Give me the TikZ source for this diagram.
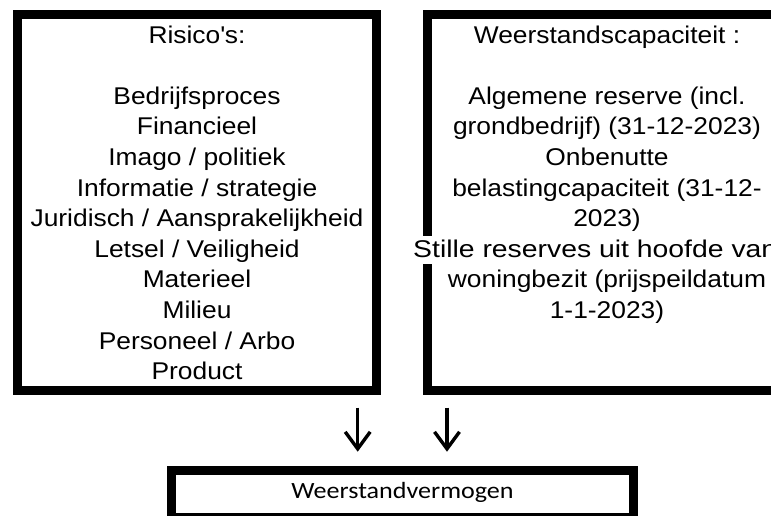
\documentclass[tikz,border=0pt]{standalone}
\usepackage{fontspec}
\setmainfont{Liberation Sans}[FakeStretch=1.09]
\newfontfamily\bottomfont{Carlito}[FakeStretch=1.12]
\usepackage{graphicx}
\usetikzlibrary{arrows.meta}
\begin{document}
\begin{tikzpicture}[x=1pt,y=-1pt,
  frame/.style={draw=black, line width=9pt, inner sep=0pt, outer sep=0pt},
  txt/.style={anchor=base, inner sep=0pt, font=\fontsize{24.2}{30}\selectfont},
  btxt/.style={anchor=base, inner sep=0pt, font=\bottomfont\fontsize{23.3}{28}\selectfont},
  arr/.style={line width=3.4pt, -{Straight Barb[length=17pt,width=25pt]}}]
\useasboundingbox (0,0) rectangle (771,515);
\clip (0,0) rectangle (771,515);
% boxes
\node[frame, minimum width=359pt, minimum height=376pt] (risk) at (197,202.5) {};
\node[frame, minimum width=360pt, minimum height=376pt] (cap) at (607.5,202.5) {};
\node[frame, minimum width=462pt, minimum height=47pt] (verm) at (402.5,494) {};
% left texts
\foreach \n/\t in {0/{Risico\textquotesingle s:}, 2/{Bedrijfsproces}, 3/{Financieel}, 4/{Imago / politiek},
  5/{Informatie / strategie}, 6/{Juridisch / Aansprakelijkheid}, 7/{Letsel / Veiligheid},
  8/{Materieel}, 9/{Milieu}, 10/{Personeel / Arbo}, 11/{Product}}
  \node[txt] (L\n) at (197,{43+30.6*\n}) {\t};
% right texts
\foreach \n/\t in {0/{Weerstandscapaciteit :}, 2/{Algemene reserve (incl.}, 3/{grondbedrijf) (31-12-2023)},
  4/{Onbenutte}, 5/{belastingcapaciteit (31-12-}, 6/{2023)}, 8/{woningbezit (prijspeildatum}, 9/{1-1-2023)}}
  \node[txt] (R\n) at (607,{43+30.6*\n}) {\t};
\node[txt, anchor=base west, fill=white, text height=21pt, text depth=7pt] (R7) at (413,{43+30.6*7}) {\scalebox{1.075}[1]{Stille reserves uit hoofde van}};
% bottom text
\node[btxt] (vtxt) at (402.5,498.3) {Weerstandvermogen};
% arrows
\coordinate (a1s) at (357.7,407.7);
\coordinate (a1e) at (357.7,451.7);
\coordinate (a2s) at (447,407.7);
\coordinate (a2e) at (447,451.7);
\draw[arr] (a1s) -- (a1e);
\draw[arr] (a2s) -- (a2e);
\end{tikzpicture}
\end{document}
